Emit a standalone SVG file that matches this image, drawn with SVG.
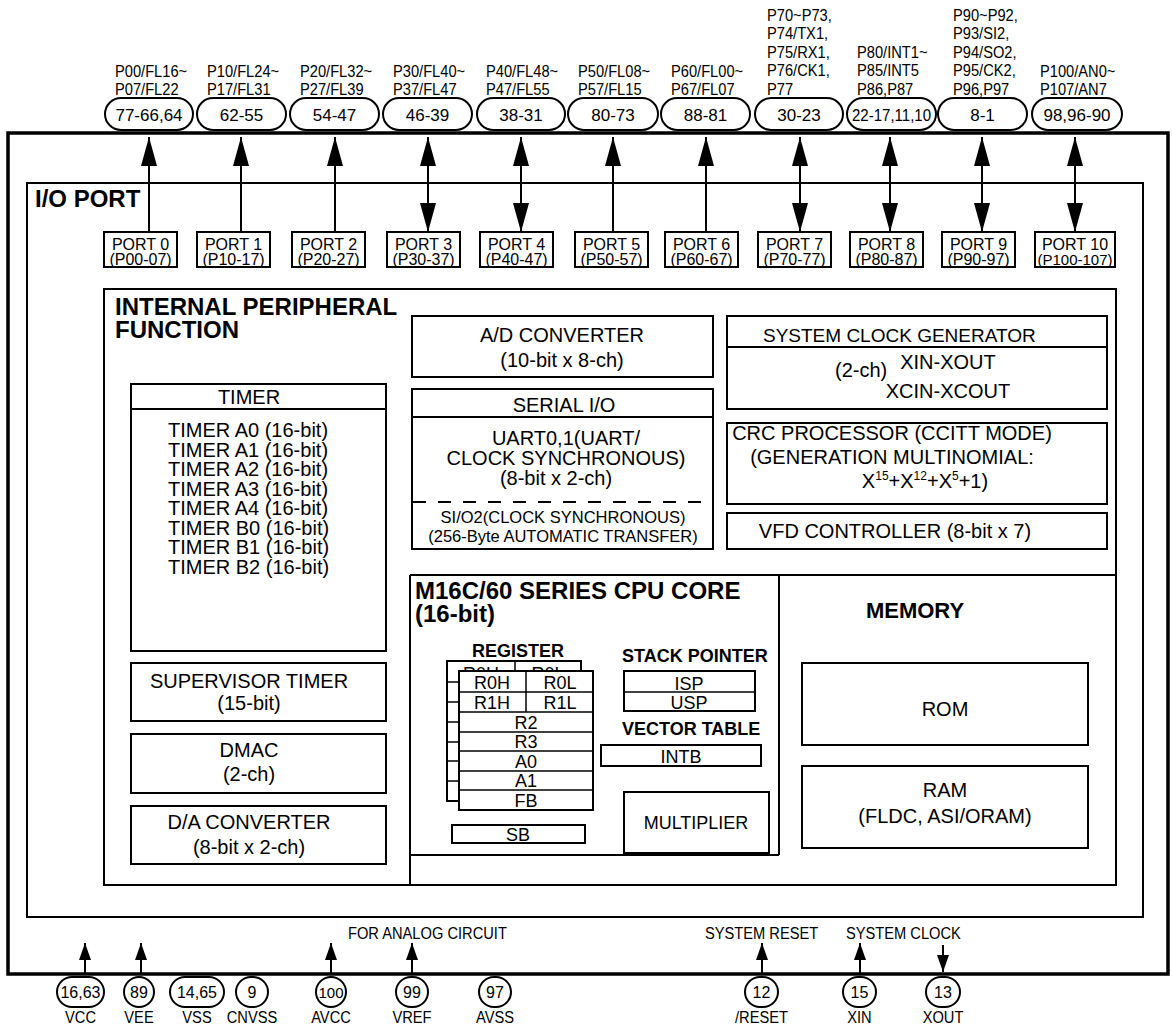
<svg xmlns="http://www.w3.org/2000/svg" width="1172" height="1026" viewBox="0 0 1172 1026">
<style>
.bx{fill:#fff;stroke:#000;stroke-width:2}
.nf{fill:none;stroke:#000;stroke-width:2}
.th{fill:none;stroke:#000;stroke-width:1.5}
.ln{stroke:#000;stroke-width:2;fill:none}
text{font-family:"Liberation Sans",Arial,Helvetica,sans-serif;fill:#000}
.t{font-size:20px}
.m{text-anchor:middle}
.h{font-size:24px;font-weight:bold}
.h2{font-size:18px;font-weight:bold}
.r{font-size:18px}
.pl{font-size:16.3px;transform-box:fill-box;transform-origin:0 50%;transform:scaleX(0.9)}
.pn{font-size:17px;text-anchor:middle}
.pt{font-size:16px;text-anchor:middle}
.bl{font-size:16.3px;text-anchor:middle;transform-box:fill-box;transform-origin:50% 50%;transform:scaleX(0.9)}
.pill{fill:#fff;stroke:#000;stroke-width:2}
</style>
<defs>
<marker id="ah" markerUnits="userSpaceOnUse" viewBox="0 0 29 16" refX="29" refY="8" markerWidth="29" markerHeight="16" orient="auto-start-reverse"><path d="M0,0 L29,8 L0,16 Z" fill="#000"/></marker>
<marker id="as" markerUnits="userSpaceOnUse" viewBox="0 0 17 12" refX="17" refY="6" markerWidth="17" markerHeight="12" orient="auto"><path d="M0,0 L17,6 L0,12 Z" fill="#000"/></marker>
<clipPath id="backclip"><rect x="440" y="640" width="150" height="31"/></clipPath>
</defs>
<rect x="0" y="0" width="1172" height="1026" fill="#fff"/>

<g id="chip">
<rect x="8" y="133" width="1160" height="841" fill="none" stroke="#000" stroke-width="3.5"/>
</g>

<g id="io-port">
<rect x="27" y="183" width="1116" height="734" class="nf" stroke-width="2.5"/>
<text x="35" y="207" class="h">I/O PORT</text>
</g>

<g id="top-pins">
<g id="pin-p0"><text class="pl"><tspan x="115" y="77">P00/FL16~</tspan><tspan x="115" y="95">P07/FL22</tspan></text><rect class="pill" x="105" y="98" width="88" height="32" rx="16"/><text class="pn" x="149" y="121">77-66,64</text></g>
<g id="pin-p1"><text class="pl"><tspan x="207" y="77">P10/FL24~</tspan><tspan x="207" y="95">P17/FL31</tspan></text><rect class="pill" x="197" y="98" width="89" height="32" rx="16"/><text class="pn" x="241.5" y="121">62-55</text></g>
<g id="pin-p2"><text class="pl"><tspan x="300" y="77">P20/FL32~</tspan><tspan x="300" y="95">P27/FL39</tspan></text><rect class="pill" x="290" y="98" width="89" height="32" rx="16"/><text class="pn" x="334.5" y="121">54-47</text></g>
<g id="pin-p3"><text class="pl"><tspan x="393" y="77">P30/FL40~</tspan><tspan x="393" y="95">P37/FL47</tspan></text><rect class="pill" x="383" y="98" width="89" height="32" rx="16"/><text class="pn" x="427.5" y="121">46-39</text></g>
<g id="pin-p4"><text class="pl"><tspan x="486" y="77">P40/FL48~</tspan><tspan x="486" y="95">P47/FL55</tspan></text><rect class="pill" x="477" y="98" width="88" height="32" rx="16"/><text class="pn" x="521" y="121">38-31</text></g>
<g id="pin-p5"><text class="pl"><tspan x="578" y="77">P50/FL08~</tspan><tspan x="578" y="95">P57/FL15</tspan></text><rect class="pill" x="568" y="98" width="90" height="32" rx="16"/><text class="pn" x="613" y="121">80-73</text></g>
<g id="pin-p6"><text class="pl"><tspan x="671" y="77">P60/FL00~</tspan><tspan x="671" y="95">P67/FL07</tspan></text><rect class="pill" x="661" y="98" width="89" height="32" rx="16"/><text class="pn" x="705.5" y="121">88-81</text></g>
<g id="pin-p7"><text class="pl"><tspan x="767" y="21">P70~P73,</tspan><tspan x="767" y="39.5">P74/TX1,</tspan><tspan x="767" y="58">P75/RX1,</tspan><tspan x="767" y="76.5">P76/CK1,</tspan><tspan x="767" y="95">P77</tspan></text><rect class="pill" x="755" y="98" width="88" height="32" rx="16"/><text class="pn" x="799" y="121">30-23</text></g>
<g id="pin-p8"><text class="pl"><tspan x="857" y="58">P80/INT1~</tspan><tspan x="857" y="76.5">P85/INT5</tspan><tspan x="857" y="95">P86,P87</tspan></text><rect class="pill" x="847" y="98" width="89" height="32" rx="16"/><text class="pn" x="891.5" y="121" textLength="79" lengthAdjust="spacingAndGlyphs">22-17,11,10</text></g>
<g id="pin-p9"><text class="pl"><tspan x="953" y="21">P90~P92,</tspan><tspan x="953" y="39.5">P93/SI2,</tspan><tspan x="953" y="58">P94/SO2,</tspan><tspan x="953" y="76.5">P95/CK2,</tspan><tspan x="953" y="95">P96,P97</tspan></text><rect class="pill" x="938" y="98" width="89" height="32" rx="16"/><text class="pn" x="982.5" y="121">8-1</text></g>
<g id="pin-p10"><text class="pl"><tspan x="1040" y="77">P100/AN0~</tspan><tspan x="1040" y="95">P107/AN7</tspan></text><rect class="pill" x="1032" y="98" width="90" height="32" rx="16"/><text class="pn" x="1077" y="121">98,96-90</text></g>
</g>

<g id="ports">
<g id="port0"><rect class="bx" x="104" y="232" width="73" height="35"/><text class="pt" x="140.5" y="250">PORT 0</text><text class="pt" x="140.5" y="265">(P00-07)</text></g>
<g id="port1"><rect class="bx" x="197" y="232" width="73" height="35"/><text class="pt" x="233.5" y="250">PORT 1</text><text class="pt" x="233.5" y="265">(P10-17)</text></g>
<g id="port2"><rect class="bx" x="292" y="232" width="73" height="35"/><text class="pt" x="328.5" y="250">PORT 2</text><text class="pt" x="328.5" y="265">(P20-27)</text></g>
<g id="port3"><rect class="bx" x="387" y="232" width="73" height="35"/><text class="pt" x="423.5" y="250">PORT 3</text><text class="pt" x="423.5" y="265">(P30-37)</text></g>
<g id="port4"><rect class="bx" x="480" y="232" width="73" height="35"/><text class="pt" x="516.5" y="250">PORT 4</text><text class="pt" x="516.5" y="265">(P40-47)</text></g>
<g id="port5"><rect class="bx" x="575" y="232" width="73" height="35"/><text class="pt" x="611.5" y="250">PORT 5</text><text class="pt" x="611.5" y="265">(P50-57)</text></g>
<g id="port6"><rect class="bx" x="665" y="232" width="73" height="35"/><text class="pt" x="701.5" y="250">PORT 6</text><text class="pt" x="701.5" y="265">(P60-67)</text></g>
<g id="port7"><rect class="bx" x="758" y="232" width="73" height="35"/><text class="pt" x="794.5" y="250">PORT 7</text><text class="pt" x="794.5" y="265">(P70-77)</text></g>
<g id="port8"><rect class="bx" x="850" y="232" width="73" height="35"/><text class="pt" x="886.5" y="250">PORT 8</text><text class="pt" x="886.5" y="265">(P80-87)</text></g>
<g id="port9"><rect class="bx" x="942" y="232" width="73" height="35"/><text class="pt" x="978.5" y="250">PORT 9</text><text class="pt" x="978.5" y="265">(P90-97)</text></g>
<g id="port10"><rect class="bx" x="1035" y="232" width="80" height="35"/><text class="pt" x="1075" y="250">PORT 10</text><text class="pt" x="1075" y="265" style="font-size:15px">(P100-107)</text></g>
</g>

<g id="internal-peripheral">
<rect x="104" y="289" width="1012" height="596" class="nf" stroke-width="2.5"/>
<text class="h" x="115" y="315">INTERNAL PERIPHERAL</text>
<text class="h" x="115" y="338">FUNCTION</text>
</g>

<g id="timer">
<rect class="bx" x="131" y="384" width="255" height="267"/>
<line class="ln" x1="131" y1="409" x2="386" y2="409"/>
<text class="t m" x="249" y="404">TIMER</text>
<text class="t"><tspan x="168" y="437">TIMER A0 (16-bit)</tspan><tspan x="168" y="456.5">TIMER A1 (16-bit)</tspan><tspan x="168" y="476">TIMER A2 (16-bit)</tspan><tspan x="168" y="495.5">TIMER A3 (16-bit)</tspan><tspan x="168" y="515">TIMER A4 (16-bit)</tspan><tspan x="168" y="534.5">TIMER B0 (16-bit)</tspan><tspan x="168" y="554">TIMER B1 (16-bit)</tspan><tspan x="168" y="573.5">TIMER B2 (16-bit)</tspan></text>
</g>

<g id="supervisor-timer">
<rect class="bx" x="131" y="663" width="255" height="58"/>
<text class="t m" x="249" y="688">SUPERVISOR TIMER</text>
<text class="t m" x="249" y="710">(15-bit)</text>
</g>
<g id="dmac">
<rect class="bx" x="131" y="734" width="255" height="59"/>
<text class="t m" x="249" y="757">DMAC</text>
<text class="t m" x="249" y="781">(2-ch)</text>
</g>
<g id="da-converter">
<rect class="bx" x="131" y="806" width="255" height="58"/>
<text class="t m" x="249" y="829">D/A CONVERTER</text>
<text class="t m" x="249" y="854">(8-bit x 2-ch)</text>
</g>

<g id="ad-converter">
<rect class="bx" x="412" y="316" width="301" height="61"/>
<text class="t m" x="562" y="342">A/D CONVERTER</text>
<text class="t m" x="562" y="367">(10-bit x 8-ch)</text>
</g>

<g id="serial-io">
<rect class="bx" x="412" y="389" width="301" height="160"/>
<line class="ln" x1="412" y1="417" x2="713" y2="417"/>
<line class="ln" x1="413" y1="502" x2="712" y2="502" stroke-dasharray="13,12"/>
<text class="t m" x="564" y="412">SERIAL I/O</text>
<text class="t m" x="566" y="445">UART0,1(UART/</text>
<text class="t m" x="566" y="465">CLOCK SYNCHRONOUS)</text>
<text class="t m" x="556" y="485">(8-bit x 2-ch)</text>
<text class="m" x="563" y="523" style="font-size:16.5px">SI/O2(CLOCK SYNCHRONOUS)</text>
<text class="m" x="563" y="542" style="font-size:16.5px">(256-Byte AUTOMATIC TRANSFER)</text>
</g>

<g id="system-clock">
<rect class="bx" x="727" y="316" width="380" height="93"/>
<line class="ln" x1="727" y1="347" x2="1107" y2="347"/>
<text class="t" x="763" y="342" style="font-size:19px">SYSTEM CLOCK GENERATOR</text>
<text class="t" x="835" y="377">(2-ch)</text>
<text class="t m" x="948" y="369">XIN-XOUT</text>
<text class="t m" x="948" y="398">XCIN-XCOUT</text>
</g>

<g id="crc">
<rect class="bx" x="727" y="423" width="380" height="81"/>
<text class="t m" x="892" y="440">CRC PROCESSOR (CCITT MODE)</text>
<text class="t m" x="892" y="464">(GENERATION MULTINOMIAL:</text>
<text class="t m" x="925" y="488">X<tspan dy="-8" style="font-size:12px">15</tspan><tspan dy="8">+X</tspan><tspan dy="-8" style="font-size:12px">12</tspan><tspan dy="8">+X</tspan><tspan dy="-8" style="font-size:12px">5</tspan><tspan dy="8">+1)</tspan></text>
</g>

<g id="vfd">
<rect class="bx" x="727" y="513" width="380" height="36"/>
<text class="t m" x="895" y="538">VFD CONTROLLER (8-bit x 7)</text>
</g>

<g id="cpu-core">
<line class="ln" x1="410" y1="575" x2="1116" y2="575"/>
<line class="ln" x1="410" y1="575" x2="410" y2="885"/>
<line class="ln" x1="779" y1="575" x2="779" y2="855"/>
<line class="ln" x1="410" y1="855" x2="779" y2="855"/>
<text class="h" x="415" y="599">M16C/60 SERIES CPU CORE</text>
<text class="h" x="415" y="622">(16-bit)</text>
</g>

<g id="register">
<text class="h2 m" x="518" y="657">REGISTER</text>
<rect class="bx" x="447" y="661" width="134" height="140" stroke-width="1.5"/>
<line class="th" x1="515" y1="661" x2="515" y2="682"/>
<g clip-path="url(#backclip)"><text class="r m" x="481" y="680">R0H</text><text class="r m" x="548" y="680">R0L</text></g>
<g class="th"><line x1="447" y1="682" x2="581" y2="682"/><line x1="447" y1="702" x2="581" y2="702"/><line x1="447" y1="722" x2="581" y2="722"/><line x1="447" y1="742" x2="581" y2="742"/><line x1="447" y1="761" x2="581" y2="761"/><line x1="447" y1="781" x2="581" y2="781"/></g>
<rect class="bx" x="459" y="671" width="134" height="139" stroke-width="1.5"/>
<g class="th"><line x1="459" y1="692" x2="593" y2="692"/><line x1="459" y1="712" x2="593" y2="712"/><line x1="459" y1="732" x2="593" y2="732"/><line x1="459" y1="751" x2="593" y2="751"/><line x1="459" y1="771" x2="593" y2="771"/><line x1="459" y1="790" x2="593" y2="790"/><line x1="526" y1="671" x2="526" y2="712"/></g>
<text class="r m" x="492" y="689">R0H</text>
<text class="r m" x="560" y="689">R0L</text>
<text class="r m" x="492" y="709">R1H</text>
<text class="r m" x="560" y="709">R1L</text>
<text class="r m" x="526" y="729">R2</text>
<text class="r m" x="526" y="748">R3</text>
<text class="r m" x="526" y="768">A0</text>
<text class="r m" x="526" y="787">A1</text>
<text class="r m" x="526" y="807">FB</text>
</g>

<g id="sb">
<rect class="bx" x="452" y="825" width="133" height="18" stroke-width="1.5"/>
<text class="r m" x="518" y="841">SB</text>
</g>

<g id="stack-pointer">
<text class="h2" x="622" y="662">STACK POINTER</text>
<rect class="bx" x="624" y="671" width="131" height="40" stroke-width="1.5"/>
<line class="th" x1="624" y1="692" x2="755" y2="692"/>
<text class="r m" x="689" y="690">ISP</text>
<text class="r m" x="689" y="709">USP</text>
</g>

<g id="vector-table">
<text class="h2" x="622" y="735">VECTOR TABLE</text>
<rect class="bx" x="601" y="745" width="160" height="21" stroke-width="1.5"/>
<text class="r m" x="681" y="763">INTB</text>
</g>

<g id="multiplier">
<rect class="bx" x="624" y="792" width="145" height="61"/>
<text class="r m" x="696" y="829">MULTIPLIER</text>
</g>

<g id="memory">
<text class="h m" x="915" y="618" style="font-size:22px">MEMORY</text>
<g id="rom"><rect class="bx" x="802" y="663" width="286" height="82"/><text class="t m" x="945" y="716">ROM</text></g>
<g id="ram"><rect class="bx" x="802" y="766" width="286" height="82"/><text class="t m" x="945" y="797">RAM</text><text class="t m" x="945" y="823">(FLDC, ASI/ORAM)</text></g>
</g>

<g id="bottom-labels">
<text class="pl" x="348" y="939">FOR ANALOG CIRCUIT</text>
<text class="pl" x="705" y="939">SYSTEM RESET</text>
<text class="pl" x="846" y="939">SYSTEM CLOCK</text>
</g>

<g id="bottom-pins">
<g id="pin-vcc"><rect class="pill" x="57" y="977" width="47" height="30" rx="15"/><text class="pn" x="80.5" y="998" style="font-size:16px">16,63</text><text class="bl" x="80.5" y="1023">VCC</text></g>
<g id="pin-vee"><rect class="pill" x="124" y="977" width="30" height="30" rx="15"/><text class="pn" x="139" y="998" style="font-size:16px">89</text><text class="bl" x="139" y="1023">VEE</text></g>
<g id="pin-vss"><rect class="pill" x="170" y="977" width="54" height="30" rx="15"/><text class="pn" x="197" y="998" style="font-size:16px">14,65</text><text class="bl" x="197" y="1023">VSS</text></g>
<g id="pin-cnvss"><rect class="pill" x="236" y="977" width="32" height="30" rx="15"/><text class="pn" x="252" y="998" style="font-size:16px">9</text><text class="bl" x="252" y="1023">CNVSS</text></g>
<g id="pin-avcc"><rect class="pill" x="316" y="977" width="30" height="30" rx="15"/><text class="pn" x="331" y="998" style="font-size:15px">100</text><text class="bl" x="331" y="1023">AVCC</text></g>
<g id="pin-vref"><rect class="pill" x="396" y="977" width="32" height="30" rx="15"/><text class="pn" x="412" y="998" style="font-size:16px">99</text><text class="bl" x="412" y="1023">VREF</text></g>
<g id="pin-avss"><rect class="pill" x="479" y="977" width="32" height="30" rx="15"/><text class="pn" x="495" y="998" style="font-size:16px">97</text><text class="bl" x="495" y="1023">AVSS</text></g>
<g id="pin-reset"><rect class="pill" x="745" y="977" width="33" height="30" rx="15"/><text class="pn" x="761.5" y="998" style="font-size:16px">12</text><text class="bl" x="761.5" y="1023">/RESET</text></g>
<g id="pin-xin"><rect class="pill" x="843" y="977" width="33" height="30" rx="15"/><text class="pn" x="859.5" y="998" style="font-size:16px">15</text><text class="bl" x="859.5" y="1023">XIN</text></g>
<g id="pin-xout"><rect class="pill" x="926" y="977" width="34" height="30" rx="15"/><text class="pn" x="943" y="998" style="font-size:16px">13</text><text class="bl" x="943" y="1023">XOUT</text></g>
</g>

<g id="connectors" class="ln">
<line x1="149" y1="232" x2="149" y2="137" marker-end="url(#ah)"/>
<line x1="241" y1="232" x2="241" y2="137" marker-end="url(#ah)"/>
<line x1="335" y1="232" x2="335" y2="137" marker-end="url(#ah)"/>
<line x1="428" y1="232" x2="428" y2="137" marker-start="url(#ah)" marker-end="url(#ah)"/>
<line x1="521" y1="232" x2="521" y2="137" marker-start="url(#ah)" marker-end="url(#ah)"/>
<line x1="613" y1="232" x2="613" y2="137" marker-end="url(#ah)"/>
<line x1="706" y1="232" x2="706" y2="137" marker-end="url(#ah)"/>
<line x1="800" y1="232" x2="800" y2="137" marker-start="url(#ah)" marker-end="url(#ah)"/>
<line x1="890" y1="232" x2="890" y2="137" marker-start="url(#ah)" marker-end="url(#ah)"/>
<line x1="982" y1="232" x2="982" y2="137" marker-start="url(#ah)" marker-end="url(#ah)"/>
<line x1="1075" y1="232" x2="1075" y2="137" marker-start="url(#ah)" marker-end="url(#ah)"/>
<line x1="85" y1="973" x2="85" y2="943" marker-end="url(#as)"/>
<line x1="141" y1="973" x2="141" y2="943" marker-end="url(#as)"/>
<line x1="331" y1="973" x2="331" y2="943" marker-end="url(#as)"/>
<line x1="412" y1="973" x2="412" y2="943" marker-end="url(#as)"/>
<line x1="762" y1="973" x2="762" y2="943" marker-end="url(#as)"/>
<line x1="860" y1="973" x2="860" y2="943" marker-end="url(#as)"/>
<line x1="943" y1="945" x2="943" y2="972" marker-end="url(#as)"/>
</g>
</svg>
